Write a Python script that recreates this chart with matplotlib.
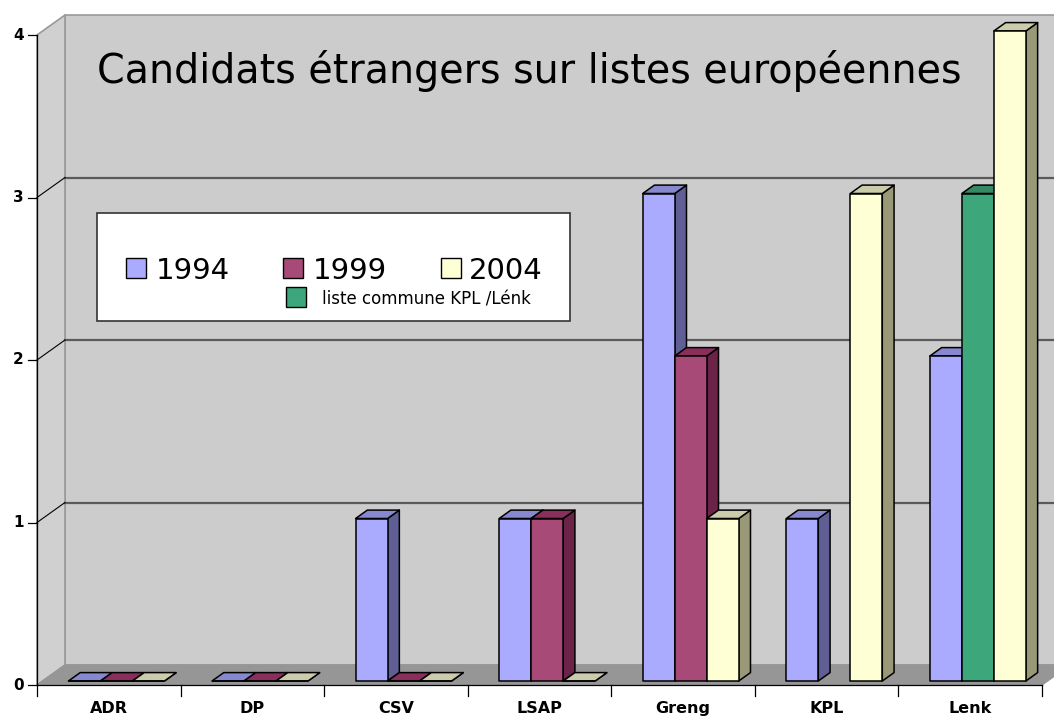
import matplotlib
matplotlib.use('Agg')
import matplotlib.pyplot as plt
from matplotlib.patches import Polygon, Rectangle

# data
categories = ['ADR', 'DP', 'CSV', 'LSAP', 'Greng', 'KPL', 'Lenk']
v1994 = [0, 0, 1, 1, 3, 1, 2]
v1999 = [0, 0, 0, 1, 2, None, None]
v2004 = [0, 0, 0, 0, 1, 3, 4]
commune = [None, None, None, None, None, None, 3]  # liste commune KPL / Lénk (1999 slot)
yticks = [0, 1, 2, 3, 4]
legend_labels = ['1994', '1999', '2004', 'liste commune KPL /Lénk']

# colours: front, side, top
c1994 = ('#AAAAFF', '#5F5F95', '#8888D0')
c1999 = ('#A84A78', '#6B2347', '#8A2F5C')
c2004 = ('#FFFFD6', '#999977', '#CCCCAA')
cgreen = ('#3DA67A', '#2C7A58', '#348A65')

W, H = 1054, 717
fig = plt.figure(figsize=(W / 100, H / 100), dpi=100)
ax = fig.add_axes([0, 0, 1, 1])

# front plane in pixels: x 37..1042 for 7 categories, y 685..35 for 0..4
x0p, x1p, y0p, y4p = 37, 1042, 685, 35
n = len(categories)
sx = (x1p - x0p) / n
sy = (y0p - y4p) / 4
ax.set_xlim(-x0p / sx, (W - x0p) / sx)
ax.set_ylim(-(H - y0p) / sy, y0p / sy)
ax.axis('off')

DX, DY = 28 / sx, 20 / sy     # depth of the box
ymax = yticks[-1]


def px(x, y):
    return (x / W, 1 - y / H)


# walls and floor
ax.add_patch(Polygon([(DX, DY), (n + DX, DY), (n + DX, ymax + DY), (DX, ymax + DY)],
                     closed=True, fc='#CCCCCC', ec='#999999', lw=1.2, zorder=1))
ax.add_patch(Polygon([(0, 0), (0, ymax), (DX, ymax + DY), (DX, DY)],
                     closed=True, fc='#D0D0D0', ec='#999999', lw=1.2, zorder=1))
ax.add_patch(Polygon([(0, 0), (n, 0), (n + DX, DY), (DX, DY)],
                     closed=True, fc='#969696', ec='#969696', lw=1, zorder=1))

for v in yticks[1:-1]:
    ax.plot([DX, n + DX], [v + DY, v + DY], color='#5A5A5A', lw=1.6, zorder=2)
    ax.plot([0, DX], [v, v + DY], color='black', lw=0.8, zorder=2)

# 3d bars
f0, f1 = 0.2, 0.62
bw = 32 / sx
gap = 0.18


def bar3d(x, h, cols):
    bx = x + f0 * DX
    by = f0 * DY
    ddx, ddy = (f1 - f0) * DX, (f1 - f0) * DY
    kw = dict(ec='black', lw=1.1, zorder=3, joinstyle='round')
    ax.add_patch(Polygon([(bx + bw, by), (bx + bw + ddx, by + ddy),
                          (bx + bw + ddx, by + h + ddy), (bx + bw, by + h)],
                         closed=True, fc=cols[1], **kw))
    ax.add_patch(Polygon([(bx, by + h), (bx + bw, by + h),
                          (bx + bw + ddx, by + h + ddy), (bx + ddx, by + h + ddy)],
                         closed=True, fc=cols[2], **kw))
    ax.add_patch(Rectangle((bx, by), bw, h, fc=cols[0], **kw))


for i in range(n):
    left = i + gap
    slots = [(v1994[i], c1994), (v1999[i] if v1999[i] is not None else commune[i],
                                 c1999 if v1999[i] is not None else cgreen),
             (v2004[i], c2004)]
    for k, (val, cols) in enumerate(slots):
        if val is None:
            continue
        bar3d(left + k * bw, val, cols)

# axes lines and ticks
ax.plot([0, 0], [0, ymax], color='black', lw=0.9, zorder=4)
ax.plot([0, n], [0, 0], color='black', lw=0.9, zorder=4)
tl = 9 / sx
for v in yticks:
    ax.plot([-tl, 0], [v, v], color='black', lw=0.9, zorder=4)
    ax.text(-13 / sx, v, str(v), ha='right', va='center', fontsize=11,
            fontweight='bold', zorder=5)
for i in range(n + 1):
    ax.plot([i, i], [0, -11 / sy], color='black', lw=0.9, zorder=4)
for i, c in enumerate(categories):
    ax.text(i + 0.5, -(713 - y0p) / sy, c, ha='center', va='baseline',
            fontsize=11.5, fontweight='bold', zorder=5)

# title
fig.text(*px(97, 83), 'Candidats étrangers sur listes européennes',
         ha='left', va='baseline', fontsize=28.5, zorder=6)

# legend
lx0, ly0, lx1, ly1 = 97, 213, 570, 321
fig.patches.append(Rectangle(px(lx0, ly1), (lx1 - lx0) / W, (ly1 - ly0) / H,
                             transform=fig.transFigure, fc='white', ec='#333333',
                             lw=1.2, zorder=6))
entries = [(126, 258, 156, 279, 21, c1994[0]), (283, 258, 313, 279, 21, c1999[0]),
           (441, 258, 469, 279, 21, c2004[0]), (286, 287, 322, 304, 12, cgreen[0])]
for (sqx, sqy, tx, ty, fs, col), lab in zip(entries, legend_labels):
    fig.patches.append(Rectangle(px(sqx, sqy + 20), 20 / W, 20 / H,
                                 transform=fig.transFigure, fc=col, ec='black',
                                 lw=1, zorder=7))
    fig.text(*px(tx, ty), lab, ha='left', va='baseline', fontsize=fs, zorder=7)

fig.savefig('out.png', dpi=100)
